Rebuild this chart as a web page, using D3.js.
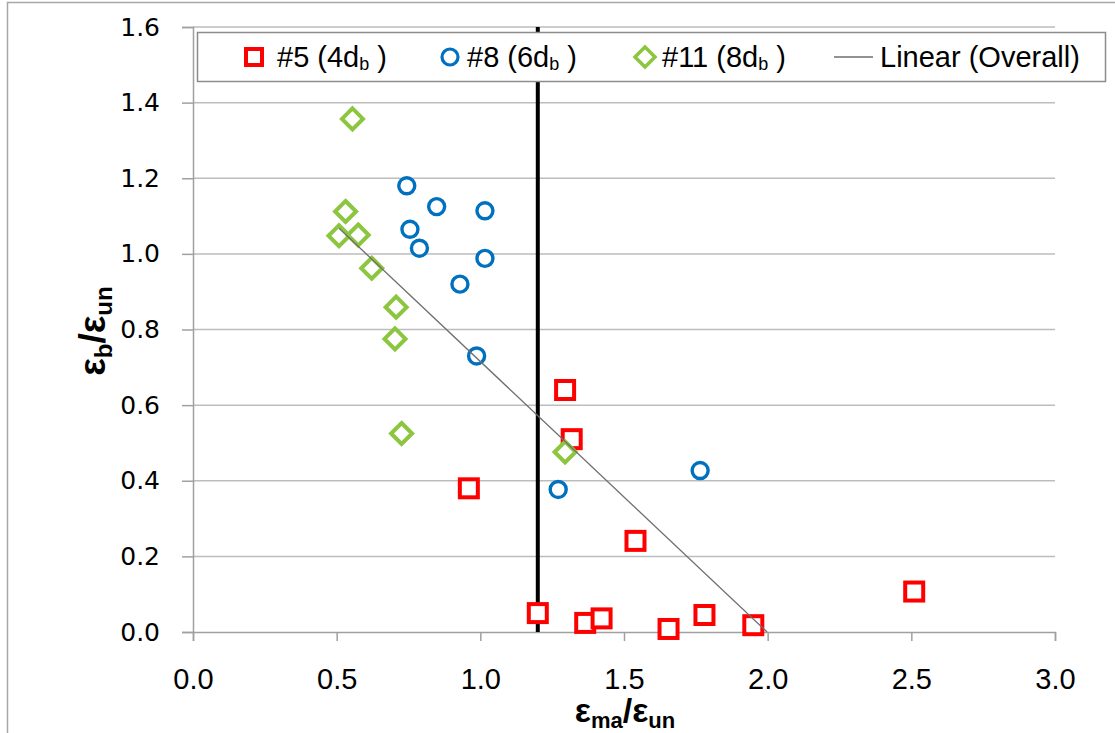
<!DOCTYPE html>
<html>
<head>
<meta charset="utf-8">
<style>
  body {
    margin: 0;
    background: #fff;
  }
  svg {
    display: block;
  }
  .tick text {
    fill: #000;
  }
</style>
</head>
<body>
<svg width="1115" height="733"></svg>
<script src="https://cdn.jsdelivr.net/npm/d3@7"></script>
<script>

// #5 (4db) - red squares
var s5x = [0.96, 1.295, 1.318, 1.54, 1.20, 1.365, 1.422, 1.655, 1.78, 1.95, 2.51];
var s5y = [0.38, 0.64, 0.51, 0.241, 0.05, 0.024, 0.036, 0.008, 0.045, 0.018, 0.107];

// #8 (6db) - blue circles
var s8x = [0.744, 0.848, 1.016, 0.755, 0.788, 1.016, 0.929, 0.987, 1.271, 1.765];
var s8y = [1.18, 1.125, 1.114, 1.065, 1.015, 0.988, 0.92, 0.73, 0.377, 0.427];

// #11 (8db) - green diamonds
var s11x = [0.555, 0.531, 0.508, 0.575, 0.622, 0.707, 0.703, 0.726, 1.295];
var s11y = [1.357, 1.112, 1.048, 1.05, 0.962, 0.859, 0.775, 0.525, 0.476];

// linear (overall) trend, drawn between these ends
var trendX = [0.508, 1.998];
var trendY = [1.068, 0.0];

// vertical reference line
var refX = 1.2;

var xTicks = [0, 0.5, 1, 1.5, 2, 2.5, 3];
var yTicks = [0, 0.2, 0.4, 0.6, 0.8, 1.0, 1.2, 1.4, 1.6];

var svg = d3.select("svg");

var x = d3.scaleLinear().domain([0, 3]).range([193, 1055]);
var y = d3.scaleLinear().domain([0, 1.6]).range([632, 27]);

// outer frame
svg.append("rect")
    .attr("x", 7.5).attr("y", 2.5)
    .attr("width", 1130).attr("height", 760)
    .attr("fill", "none")
    .attr("stroke", "#a6a6a6")
    .attr("stroke-width", 1.5);

// gridlines
svg.append("g")
  .selectAll("line")
  .data(yTicks.slice(1))
  .enter().append("line")
    .attr("x1", x(0)).attr("x2", x(3))
    .attr("y1", function(d) { return y(d); })
    .attr("y2", function(d) { return y(d); })
    .attr("stroke", "#bdbdbd")
    .attr("stroke-width", 1.5);

// axes
var yAxis = svg.append("g")
    .attr("transform", "translate(" + x(0) + ",0)")
    .call(d3.axisLeft(y).tickValues(yTicks).tickFormat(d3.format(".1f")).tickSize(11).tickPadding(22));
yAxis.selectAll("text")
    .style("font-family", "'DejaVu Sans', Verdana, sans-serif")
    .style("font-size", "25px");

var xAxis = svg.append("g")
    .attr("transform", "translate(0," + y(0) + ")")
    .call(d3.axisBottom(x).tickValues(xTicks).tickFormat(d3.format(".1f")).tickSize(9).tickPadding(27));
xAxis.selectAll("text")
    .style("font-family", "'Liberation Sans', Arial, sans-serif")
    .style("font-size", "29px");

svg.selectAll(".domain, .tick line")
    .attr("stroke", "#a0a0a0")
    .attr("stroke-width", 1.5);

// thick black line at x = 1.2
svg.append("line")
    .attr("x1", x(refX)).attr("x2", x(refX))
    .attr("y1", y(1.6)).attr("y2", y(0))
    .attr("stroke", "#000")
    .attr("stroke-width", 4);

function pts(xs, ys) {
  return xs.map(function(v, i) { return {x: v, y: ys[i]}; });
}

var red = "#ff0000", blue = "#0070c0", green = "#8cc63f";

svg.append("g")
  .selectAll("rect")
  .data(pts(s5x, s5y))
  .enter().append("rect")
    .attr("x", function(d) { return x(d.x) - 9; })
    .attr("y", function(d) { return y(d.y) - 9; })
    .attr("width", 18).attr("height", 18)
    .attr("fill", "#fff")
    .attr("stroke", red)
    .attr("stroke-width", 4);

svg.append("g")
  .selectAll("circle")
  .data(pts(s8x, s8y))
  .enter().append("circle")
    .attr("cx", function(d) { return x(d.x); })
    .attr("cy", function(d) { return y(d.y); })
    .attr("r", 8)
    .attr("fill", "#fff")
    .attr("stroke", blue)
    .attr("stroke-width", 3.4);

var diamond = "M0,-10.5L10.5,0L0,10.5L-10.5,0Z";
svg.append("g")
  .selectAll("path")
  .data(pts(s11x, s11y))
  .enter().append("path")
    .attr("d", diamond)
    .attr("transform", function(d) { return "translate(" + x(d.x) + "," + y(d.y) + ")"; })
    .attr("fill", "#fff")
    .attr("stroke", green)
    .attr("stroke-width", 4);

// trend line on top of the markers
svg.append("path")
    .datum(pts(trendX, trendY))
    .attr("d", d3.line().x(function(d) { return x(d.x); }).y(function(d) { return y(d.y); }))
    .attr("fill", "none")
    .attr("stroke", "#6e6e6e")
    .attr("stroke-width", 1.3);

// legend
var leg = svg.append("g");
leg.append("rect")
    .attr("x", 197.5).attr("y", 32.5)
    .attr("width", 908).attr("height", 49)
    .attr("fill", "#fff")
    .attr("stroke", "#8c8c8c")
    .attr("stroke-width", 1.5);

var legFont = "'Liberation Sans', Arial, sans-serif";
var ly = 57;

leg.append("rect")
    .attr("x", 246).attr("y", ly - 8).attr("width", 16).attr("height", 16)
    .attr("fill", "#fff").attr("stroke", red).attr("stroke-width", 4);
leg.append("circle")
    .attr("cx", 450).attr("cy", ly).attr("r", 8)
    .attr("fill", "#fff").attr("stroke", blue).attr("stroke-width", 3.2);
leg.append("path")
    .attr("d", "M0,-10L10,0L0,10L-10,0Z")
    .attr("transform", "translate(645," + ly + ")")
    .attr("fill", "#fff").attr("stroke", green).attr("stroke-width", 3.5);
leg.append("line")
    .attr("x1", 834).attr("x2", 873).attr("y1", ly).attr("y2", ly)
    .attr("stroke", "#6e6e6e").attr("stroke-width", 1.5);

var legItems = [
  {x: 277, pre: "#5 (4d", sub: "b", post: " )"},
  {x: 467, pre: "#8 (6d", sub: "b", post: " )"},
  {x: 662, pre: "#11 (8d", sub: "b", post: " )"}
];
legItems.forEach(function(it) {
  var t = leg.append("text")
      .attr("x", it.x).attr("y", ly + 10)
      .style("font-family", legFont)
      .style("font-size", "29px");
  t.append("tspan").text(it.pre);
  t.append("tspan").attr("dy", 3).style("font-size", "18px").text(it.sub);
  t.append("tspan").attr("dy", -3).text(it.post);
});
leg.append("text")
    .attr("x", 880).attr("y", ly + 10)
    .style("font-family", legFont)
    .style("font-size", "29px")
    .text("Linear (Overall)");

// axis titles
var xt = svg.append("text")
    .attr("x", 625).attr("y", 722)
    .attr("text-anchor", "middle")
    .style("font-family", legFont)
    .style("font-size", "34px")
    .style("font-weight", "bold");
xt.append("tspan").text("ε");
xt.append("tspan").attr("dy", 6).style("font-size", "22px").text("ma");
xt.append("tspan").attr("dy", -6).text("/ε");
xt.append("tspan").attr("dy", 6).style("font-size", "22px").text("un");

var yt = svg.append("text")
    .attr("transform", "translate(105,331) rotate(-90)")
    .attr("text-anchor", "middle")
    .style("font-family", legFont)
    .style("font-size", "37px")
    .style("font-weight", "bold");
yt.append("tspan").text("ε");
yt.append("tspan").attr("dy", 7).style("font-size", "24px").text("b");
yt.append("tspan").attr("dy", -7).text("/ε");
yt.append("tspan").attr("dy", 7).style("font-size", "24px").text("un");

</script>
</body>
</html>
